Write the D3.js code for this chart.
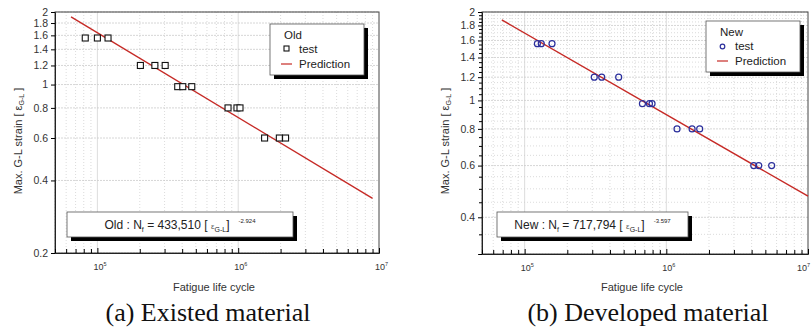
<!DOCTYPE html>
<html>
<head>
<meta charset="utf-8">
<script src="https://cdn.jsdelivr.net/npm/d3@7"></script>
<style>
  body { margin: 0; background: #fff; }
  svg { font-family: "Liberation Sans", Arial, sans-serif; }
</style>
</head>
<body>
<div id="chart"></div>
<script>
// chart size
const F_WIDTH = 811;
const F_HEIGHT = 327;

// data
const OLD_CYCLES = [82000, 100000, 119000, 202000, 256000, 303000, 372000, 404000, 468000, 847000, 980000, 1030000, 1540000, 1960000, 2170000];
const OLD_STRAIN = [1.56, 1.56, 1.56, 1.2, 1.2, 1.2, 0.98, 0.98, 0.98, 0.8, 0.8, 0.8, 0.6, 0.6, 0.6];
const OLD_PRED_CYCLES = [65000, 9000000];
const OLD_PRED_STRAIN = [1.91, 0.337];

const NEW_CYCLES = [123000, 131000, 156000, 310000, 350000, 461000, 678000, 760000, 793000, 1190000, 1520000, 1720000, 4140000, 4490000, 5540000];
const NEW_STRAIN = [1.56, 1.56, 1.56, 1.2, 1.2, 1.2, 0.975, 0.975, 0.975, 0.8, 0.8, 0.8, 0.6, 0.6, 0.6];
const NEW_PRED_CYCLES = [69000, 10000000];
const NEW_PRED_STRAIN = [1.88, 0.472];

const Y_TICKS_OLD = [0.2, 0.4, 0.6, 0.8, 1, 1.2, 1.4, 1.6, 1.8, 2];
const Y_TICKS_NEW = [0.4, 0.6, 0.8, 1, 1.2, 1.4, 1.6, 1.8, 2];
const X_DECADES = [1e5, 1e6, 1e7];

const SVG = d3.select("#chart")
  .append("svg")
    .attr("width", F_WIDTH)
    .attr("height", F_HEIGHT);

function drawPanel(p) {
  const X_SCALE = d3.scaleLog().domain([5e4, 1e7]).range([p.left, p.right]);
  const Y_SCALE = d3.scaleLog().domain(p.yDomain).range([p.bottom, p.top]);
  const g = SVG.append("g");

  // minor x positions
  const xMinor = [];
  [1e4, 1e5, 1e6].forEach(d => { for (let k = 2; k <= 9; k++) { const v = d * k; if (v >= 5e4 && v < 1e7) xMinor.push(v); } });
  const yMinor = d3.range(p.yDomain[0], 2.0001, 0.05).filter(v => !p.yTicks.some(t => Math.abs(t - v) < 1e-6));

  // grid
  g.selectAll(".gx").data(xMinor).join("line")
    .attr("x1", d => X_SCALE(d)).attr("x2", d => X_SCALE(d))
    .attr("y1", p.top).attr("y2", p.bottom)
    .attr("stroke", "#ccc").attr("stroke-width", 0.7).attr("stroke-dasharray", "1,2");
  g.selectAll(".gX").data(X_DECADES.slice(0, 2)).join("line")
    .attr("x1", d => X_SCALE(d)).attr("x2", d => X_SCALE(d))
    .attr("y1", p.top).attr("y2", p.bottom)
    .attr("stroke", "#ddd").attr("stroke-width", 1);
  if (p.denseGrid) {
    g.selectAll(".gym").data(yMinor).join("line")
      .attr("x1", p.left).attr("x2", p.right)
      .attr("y1", d => Y_SCALE(d)).attr("y2", d => Y_SCALE(d))
      .attr("stroke", "#ccc").attr("stroke-width", 0.7).attr("stroke-dasharray", "1,2");
  }
  g.selectAll(".gy").data(p.yTicks).join("line")
    .attr("x1", p.left).attr("x2", p.right)
    .attr("y1", d => Y_SCALE(d)).attr("y2", d => Y_SCALE(d))
    .attr("stroke", "#ccc").attr("stroke-width", 0.8).attr("stroke-dasharray", "2,1");

  // frame
  g.append("rect")
    .attr("x", p.left).attr("y", p.top)
    .attr("width", p.right - p.left).attr("height", p.bottom - p.top)
    .attr("fill", "none").attr("stroke", "#444").attr("stroke-width", 1);

  // y axis
  const yAxis = g.append("g")
    .attr("transform", "translate(" + p.left + ",0)")
    .call(d3.axisLeft(Y_SCALE).tickValues(p.yTicks).tickSize(4).tickFormat(d3.format("~g")));
  yAxis.select(".domain").attr("stroke", "#222");
  yAxis.selectAll("text").attr("font-size", 10.5).attr("fill", "#333").attr("font-family", "Liberation Sans, Arial");
  if (p.denseGrid) {
    g.append("g").attr("transform", "translate(" + p.left + ",0)")
      .call(d3.axisLeft(Y_SCALE).tickValues(yMinor).tickSize(3).tickFormat(""))
      .select(".domain").remove();
  }

  // x axis: ticks pointing inward
  const xAxis = g.append("g")
    .attr("transform", "translate(0," + p.bottom + ")")
    .call(d3.axisBottom(X_SCALE).tickValues(X_DECADES).tickSize(-5).tickFormat(""));
  xAxis.select(".domain").attr("stroke", "#222");
  g.append("g").attr("transform", "translate(0," + p.bottom + ")")
    .call(d3.axisBottom(X_SCALE).tickValues(xMinor).tickSize(-4).tickFormat(""))
    .select(".domain").remove();
  g.selectAll(".xl").data(X_DECADES).join("text")
    .attr("x", d => Math.min(X_SCALE(d) - 4, F_WIDTH - 14)).attr("y", p.bottom + 17)
    .attr("font-size", 9).attr("fill", "#333")
    .text("10")
    .append("tspan").attr("dy", -4).attr("font-size", 5.5).text(d => Math.round(Math.log10(d)));

  // axis titles
  g.append("text")
    .attr("x", (p.left + p.right) / 2 - 3).attr("y", 291)
    .attr("text-anchor", "middle").attr("font-size", 11).attr("fill", "#333")
    .text("Fatigue life cycle");
  const yl = g.append("text")
    .attr("transform", "translate(" + (p.left - 33) + ",141) rotate(-90)")
    .attr("text-anchor", "middle").attr("font-size", 11).attr("fill", "#333");
  yl.append("tspan").text("Max. G-L strain [ ε");
  yl.append("tspan").attr("dy", 2).attr("font-size", 7).text("G-L");
  yl.append("tspan").attr("dy", -2).text(" ]");

  // prediction line
  const line = d3.line().x(d => X_SCALE(d[0])).y(d => Y_SCALE(d[1]));
  g.append("path")
    .datum(d3.zip(p.predX, p.predY))
    .attr("d", line)
    .attr("fill", "none").attr("stroke", "#c62a26").attr("stroke-width", 1.4);

  // test points
  const pts = d3.zip(p.testX, p.testY);
  if (p.marker === "square") {
    g.selectAll(".pt").data(pts).join("rect")
      .attr("x", d => X_SCALE(d[0]) - 3).attr("y", d => Y_SCALE(d[1]) - 3)
      .attr("width", 6).attr("height", 6)
      .attr("fill", "#fff").attr("stroke", "#111").attr("stroke-width", 1.1);
  } else {
    g.selectAll(".pt").data(pts).join("circle")
      .attr("cx", d => X_SCALE(d[0])).attr("cy", d => Y_SCALE(d[1]))
      .attr("r", 3).attr("fill", "none").attr("stroke", "#2b2f9c").attr("stroke-width", 1.2);
  }

  // legend with shadow
  const L = p.legend;
  g.append("rect").attr("x", L.x + 4).attr("y", L.y + 4).attr("width", L.w).attr("height", L.h).attr("fill", "#000");
  g.append("rect").attr("x", L.x).attr("y", L.y).attr("width", L.w).attr("height", L.h)
    .attr("fill", "#fff").attr("stroke", "#555").attr("stroke-width", 0.8);
  g.append("text").attr("x", L.x + 14).attr("y", L.y + 15).attr("font-size", 11.5).attr("fill", "#222").text(p.name);
  if (p.marker === "square") {
    g.append("rect").attr("x", L.x + 14).attr("y", L.y + 22).attr("width", 5).attr("height", 5)
      .attr("fill", "none").attr("stroke", "#111").attr("stroke-width", 1.1);
  } else {
    g.append("circle").attr("cx", L.x + 16.5).attr("cy", L.y + 25.5).attr("r", 2.3)
      .attr("fill", "none").attr("stroke", "#2b2f9c").attr("stroke-width", 1.2);
  }
  g.append("text").attr("x", L.x + 29).attr("y", L.y + 29).attr("font-size", 11.5).attr("fill", "#222").text("test");
  g.append("line").attr("x1", L.x + 11).attr("x2", L.x + 22).attr("y1", L.y + 40).attr("y2", L.y + 40)
    .attr("stroke", "#c62a26").attr("stroke-width", 1.2);
  g.append("text").attr("x", L.x + 29).attr("y", L.y + 44).attr("font-size", 11.5).attr("fill", "#222").text("Prediction");

  // formula box with shadow
  const B = p.box;
  g.append("rect").attr("x", B.x + 4).attr("y", B.y + 4).attr("width", B.w).attr("height", B.h).attr("fill", "#000");
  g.append("rect").attr("x", B.x).attr("y", B.y).attr("width", B.w).attr("height", B.h)
    .attr("fill", "#fff").attr("stroke", "#555").attr("stroke-width", 0.8);
  const f = g.append("text").attr("x", B.x + B.w / 2).attr("y", B.y + 17)
    .attr("text-anchor", "middle").attr("font-size", 12).attr("fill", "#222");
  f.append("tspan").text(p.name + p.sep + "N");
  f.append("tspan").attr("dy", 3).attr("font-size", 7).text("f");
  f.append("tspan").attr("dy", -3).text(" = " + p.coef + " [ ");
  f.append("tspan").attr("font-size", 8).attr("fill", "#555").text("ε");
  f.append("tspan").attr("dy", 3).attr("font-size", 7).text("G-L");
  f.append("tspan").attr("dy", -3).text("]");
  f.append("tspan").attr("dy", -6).attr("font-size", 6).attr("dx", 9).text(p.exp);

  // caption
  g.append("text")
    .attr("x", p.captionX).attr("y", 321)
    .attr("text-anchor", "middle")
    .attr("font-family", "Liberation Serif, Times New Roman, serif")
    .attr("font-size", 26).attr("fill", "#111")
    .text(p.caption);
}

drawPanel({
  name: "Old", sep: " :   ", coef: "433,510", exp: "-2.924",
  left: 55, right: 379, top: 12, bottom: 253, yDomain: [0.2, 2], yTicks: Y_TICKS_OLD,
  testX: OLD_CYCLES, testY: OLD_STRAIN, predX: OLD_PRED_CYCLES, predY: OLD_PRED_STRAIN,
  marker: "square", denseGrid: false,
  legend: {x: 270, y: 24, w: 94, h: 51},
  box: {x: 67, y: 212, w: 226, h: 25},
  caption: "(a) Existed material", captionX: 208
});

drawPanel({
  name: "New", sep: " : ", coef: "717,794", exp: "-3.597",
  left: 482, right: 808, top: 12, bottom: 254, yDomain: [0.3, 2], yTicks: Y_TICKS_NEW,
  testX: NEW_CYCLES, testY: NEW_STRAIN, predX: NEW_PRED_CYCLES, predY: NEW_PRED_STRAIN,
  marker: "circle", denseGrid: true,
  legend: {x: 706, y: 21, w: 94, h: 51},
  box: {x: 497, y: 212, w: 191, h: 25},
  caption: "(b) Developed material", captionX: 648
});
</script>
</body>
</html>
